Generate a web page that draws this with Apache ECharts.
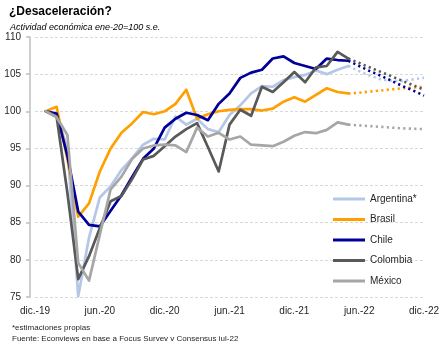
<!DOCTYPE html>
<html>
<head>
<meta charset="utf-8">
<script src="https://cdn.jsdelivr.net/npm/echarts@6/dist/echarts.min.js"></script>
<style>
html,body{margin:0;padding:0;background:#fff;}
#chart{width:443px;height:341px;}
</style>
</head>
<body>
<div id="chart"></div>
<script>
// Categories: dic.-19 .. dic.-22 (monthly)
var months = ['dic.-19',
  'ene.-20','feb.-20','mar.-20','abr.-20','may.-20','jun.-20','jul.-20','ago.-20','sep.-20','oct.-20','nov.-20','dic.-20',
  'ene.-21','feb.-21','mar.-21','abr.-21','may.-21','jun.-21','jul.-21','ago.-21','sep.-21','oct.-21','nov.-21','dic.-21',
  'ene.-22','feb.-22','mar.-22','abr.-22','may.-22','jun.-22','jul.-22','ago.-22','sep.-22','oct.-22','nov.-22','dic.-22'];

var yTicks = [75, 80, 85, 90, 95, 100, 105, 110];

// Observed values, ene.-20 .. may.-22
var argentina = [100, 99.5, 95, 75.1, 83.0, 88.4, 89.9, 92.1, 93.7, 95.5, 96.3, 96.2,
  99.3, 98.2, 99.0, 97.6, 97.2, 99.5, 100.8, 102.4, 103.4, 103.3, 104.2, 104.6,
  104.9, 105.5, 105.0, 105.6, 106.1];
var brasil = [100, 100.6, 93.5, 85.8, 87.6, 91.9, 95.0, 97.1, 98.4, 99.9, 99.6, 100.0,
  101.0, 102.9, 99.0, 99.6, 100.0, 100.2, 100.3, 100.3, 100.1, 100.35, 101.3, 101.9,
  101.3, 102.2, 103.1, 102.6, 102.4];
var chile = [100, 99.7, 94, 86.5, 84.7, 84.5, 86.6, 88.7, 91.2, 93.6, 95.0, 97.8,
  99.0, 99.8, 99.5, 98.8, 101.0, 102.4, 104.5, 105.2, 105.6, 107.1, 107.4, 106.5,
  106.1, 105.7, 107.1, 106.9, 106.8];
var colombia = [100, 99.3, 89, 77.4, 80.5, 84.3, 87.9, 88.6, 90.9, 93.5, 94.0, 95.3,
  96.6, 97.6, 98.4, 95.2, 91.9, 98.2, 100.2, 99.4, 103.3, 102.6, 103.9, 105.3,
  103.9, 105.9, 106.1, 108.0, 107.1];
var mexico = [100, 99.2, 96.8, 79.6, 77.2, 83.4, 89.5, 91.2, 93.6, 95.0, 95.4, 95.5,
  95.4, 94.5, 97.8, 96.6, 97.1, 96.2, 96.6, 95.5, 95.4, 95.3, 95.9, 96.7,
  97.2, 97.05, 97.5, 98.5, 98.2];

// Forecasts, may.-22 .. dic.-22
var argentinaF = [106.1, 105.4, 104.8, 104.3, 104.1, 104.1, 104.3, 104.5];
var brasilF    = [102.4, 102.5, 102.65, 102.8, 102.95, 103.1, 103.2, 103.3];
var chileF     = [106.8, 106.1, 105.4, 104.8, 104.1, 103.4, 102.8, 102.1];
var colombiaF  = [107.1, 106.5, 105.9, 105.3, 104.7, 104.1, 103.5, 102.9];
var mexicoF    = [98.2, 98.1, 98.0, 97.9, 97.8, 97.7, 97.65, 97.6];

var names = ['Argentina*', 'Brasil', 'Chile', 'Colombia', 'México'];
var colors = ['#B4C7E7', '#FF9F00', '#000099', '#595959', '#A6A6A6'];
var observed = [argentina, brasil, chile, colombia, mexico];
var forecast = [argentinaF, brasilF, chileF, colombiaF, mexicoF];

function padObserved(arr) {
  var out = [null];
  for (var i = 0; i < arr.length; i++) out.push(arr[i]);
  while (out.length < months.length) out.push(null);
  return out;
}
function padForecast(arr) {
  var out = [];
  var start = months.length - arr.length;
  for (var i = 0; i < start; i++) out.push(null);
  for (var j = 0; j < arr.length; j++) out.push(arr[j]);
  return out;
}

var FONT = 'Liberation Sans';
var series = [];
for (var k = 0; k < names.length; k++) {
  series.push({
    name: names[k], type: 'line', data: padObserved(observed[k]),
    color: colors[k], showSymbol: false, symbol: 'none', smooth: false,
    lineStyle: {width: 2.7, color: colors[k], cap: 'round', join: 'round'},
    z: 2 + k, animation: false
  });
}
for (var m = 0; m < names.length; m++) {
  series.push({
    name: names[m] + ' proy', type: 'line', data: padForecast(forecast[m]),
    color: colors[m], showSymbol: false, symbol: 'none',
    lineStyle: {width: 2.6, color: colors[m], type: [2.2, 3.3], cap: 'butt'},
    z: 2 + m, animation: false
  });
}

var chart = echarts.init(document.getElementById('chart'), null, {renderer: 'canvas'});
chart.setOption({
  animation: false,
  backgroundColor: '#fff',
  title: [
    {text: '¿Desaceleración?', left: 4, top: 1,
     textStyle: {fontFamily: FONT, fontSize: 12, fontWeight: 'bold', color: '#000'}},
    {text: 'Actividad económica ene-20=100 s.e.', left: 5, top: 18,
     textStyle: {fontFamily: FONT, fontSize: 9, fontStyle: 'italic', fontWeight: 'normal', color: '#000'}},
    {text: '*estimaciones propias', left: 7, top: 319,
     textStyle: {fontFamily: FONT, fontSize: 8, fontWeight: 'normal', color: '#262626'}},
    {text: 'Fuente: Econviews en base a Focus Survey y Consensus jul-22', left: 7, top: 330,
     textStyle: {fontFamily: FONT, fontSize: 8, fontWeight: 'normal', color: '#262626'}}
  ],
  legend: {
    data: names, orient: 'vertical', left: 333, top: 193, padding: 0,
    icon: 'rect', itemWidth: 32, itemHeight: 3, itemGap: 8.5,
    textStyle: {fontFamily: FONT, fontSize: 10, color: '#262626', lineHeight: 12}
  },
  grid: {left: 35, right: 19, top: 37, bottom: 44},
  xAxis: {
    type: 'category', data: months, boundaryGap: false,
    axisLine: {show: false}, axisTick: {show: false},
    axisLabel: {interval: 5, margin: 9, fontFamily: FONT, fontSize: 10, color: '#262626'},
    splitLine: {show: false}
  },
  yAxis: {
    type: 'value', min: yTicks[0], max: yTicks[yTicks.length - 1], interval: 5,
    offset: 5,
    axisLine: {show: true, lineStyle: {color: '#BFBFBF', width: 1.5}},
    axisTick: {show: true, length: 4, lineStyle: {color: '#BFBFBF', width: 1.5}},
    axisLabel: {margin: 9, fontFamily: FONT, fontSize: 10, color: '#262626'},
    splitLine: {show: true, lineStyle: {color: '#D9D9D9', type: [3, 2], width: 1}}
  },
  series: series
});
</script>
</body>
</html>
